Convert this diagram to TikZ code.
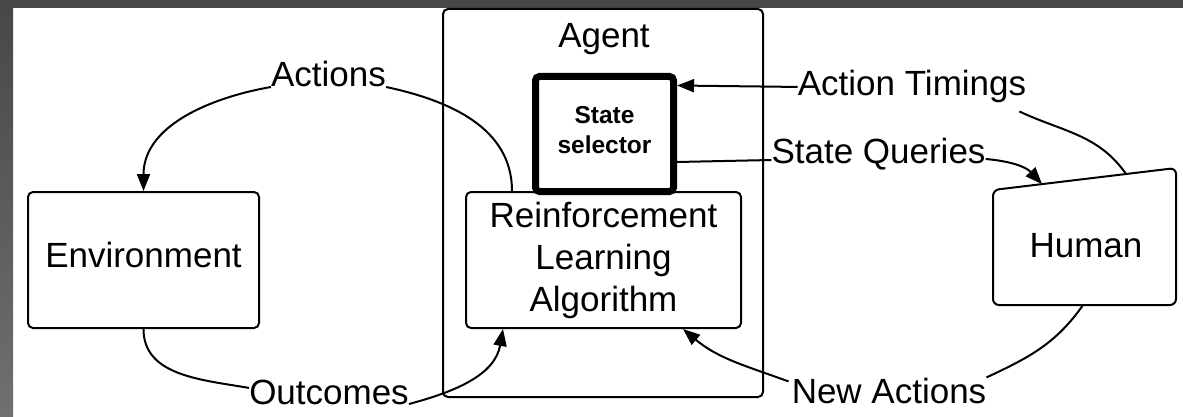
\documentclass[tikz,border=0pt]{standalone}
\usepackage{fontspec}
\setmainfont{Liberation Sans}
\usetikzlibrary{arrows.meta,calc}
\definecolor{framegray}{HTML}{474747}
\definecolor{framegraylow}{HTML}{707070}
\begin{document}
\begin{tikzpicture}[x=1pt,y=-1pt,
  box/.style={draw, line width=2pt, rounded corners=5pt, inner sep=0pt, align=center},
  big/.style={font=\fontsize{35pt}{42pt}\selectfont},
  lbl/.style={inner sep=0pt, font=\fontsize{35pt}{42pt}\selectfont},
  conn/.style={line width=2pt},
  arr/.style={conn, -{Triangle[length=17pt,width=13pt]}}
]
\useasboundingbox (0,0) rectangle (1183,417);
\fill[white] (0,0) rectangle (1183,417);
\shade[top color=framegray, bottom color=framegraylow] (0,0) rectangle (13,417);
\fill[framegray] (0,0) rectangle (1183,8);

% boxes
\node[box, minimum width=320pt, minimum height=388pt] (agent) at (603,203) {};
\node[lbl, anchor=base] (agentlbl) at (604,48) {Agent};
\node[box, big, minimum width=231pt, minimum height=136pt, text height=25pt, text depth=11pt] (env) at (143.5,260) {Environment};
\node[box, big, minimum width=275pt, minimum height=136pt] (rl) at (603.5,260) {Reinforcement\\Learning\\Algorithm};
\node[box, line width=7pt, rounded corners=4pt, minimum width=138pt, minimum height=115pt,
      font=\bfseries\fontsize{24.5pt}{30pt}\selectfont] (ss) at (604.5,134) {State\\selector\rule[-9pt]{0pt}{0pt}};

% human (manual input shape)
\coordinate (htl) at (993,190);
\coordinate (htr) at (1176,168);
\coordinate (hbr) at (1176,305);
\coordinate (hbl) at (993,305);
\draw[line width=2pt, rounded corners=6pt] (htl) -- (htr) -- (hbr) -- (hbl) -- cycle;
\node[lbl, anchor=base] (human) at (1086,257) {Human};

% labels
\node[lbl, anchor=base] (act) at (328.5,87) {Actions};
\node[lbl, anchor=base] (outc) at (329,404) {Outcomes};
\node[lbl, anchor=base] (timing) at (912,96) {Action Timings};
\node[lbl, anchor=base] (sq) at (878.5,163) {State Queries};
\node[lbl, anchor=base] (na) at (889,403) {New Actions};

% connectors
\draw[conn] ([xshift=47pt]rl.north west) to[out=90,in=-12] (act.base east);
\draw[arr] (act.base west) to[out=190,in=90] (env.north);
\draw[conn] (env.south) to[out=-90,in=170] ([yshift=4pt]outc.west);
\draw[arr] (outc.base east) to[out=15,in=-100] ([xshift=38pt]rl.south west);
\draw[arr] ([shift={(-3pt,-4pt)}]na.north west) to[out=160,in=-40] ([xshift=218pt]rl.south west);
\draw[conn] (na.north east) to[out=25,in=-125] ($(hbl)!0.492!(hbr)$);
\draw[arr] (timing.west) -- ([yshift=48.5pt]ss.east);
\draw[conn] ($(htl)!0.727!(htr)$) to[out=125,in=-25] ([shift={(-7pt,-8pt)}]timing.south east);
\draw[conn] ([yshift=-28pt]ss.east) -- ([yshift=3pt]sq.base west);
\draw[arr] ([yshift=4pt]sq.base east) to[out=-5,in=133] ($(htl)!0.268!(htr)$);
\end{tikzpicture}
\end{document}
